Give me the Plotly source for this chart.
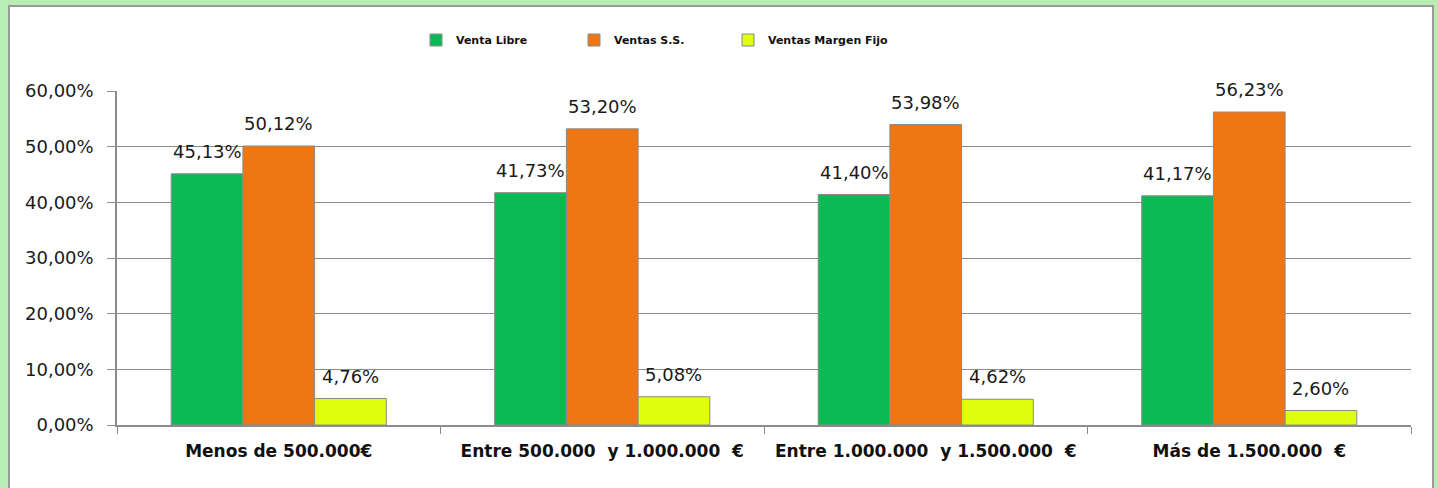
import plotly.graph_objects as go

categories = ["Menos de 500.000€", "Entre 500.000  y 1.000.000  €",
              "Entre 1.000.000  y 1.500.000  €", "Más de 1.500.000  €"]
series_names = ["Venta Libre", "Ventas S.S.", "Ventas Margen Fijo"]
venta_libre = [45.13, 41.73, 41.40, 41.17]
ventas_ss = [50.12, 53.20, 53.98, 56.23]
ventas_margen_fijo = [4.76, 5.08, 4.62, 2.60]
y_ticks = [0, 10, 20, 30, 40, 50, 60]

series_values = [venta_libre, ventas_ss, ventas_margen_fijo]
colors = ["#0BBA55", "#F07614", "#DFFF0F"]
legend_ids = ["legend", "legend2", "legend3"]
legend_px = [416, 574, 728]

def fmt(v):
    return f"{v:.2f}".replace(".", ",") + "%"

W, H = 1437, 488
ml, mr, mt, mb = 117, W - 1411, 91, H - 425
pw = W - ml - mr
ph = H - mt - mb
bargap = 0.335
bar_px = pw / len(categories) * (1 - bargap) / 3

FONT = "DejaVu Sans"

def px2x(p):
    return (p - ml) / pw

def px2y(p):
    return (H - mb - p) / ph

fig = go.Figure()
for name, vals, col, lg in zip(series_names, series_values, colors, legend_ids):
    fig.add_trace(go.Bar(
        name=name, x=categories, y=vals, legend=lg,
        marker=dict(color=col, line=dict(color="#8a8a8a", width=1)),
    ))

for i, vals in enumerate(series_values):
    for c, v in zip(categories, vals):
        fig.add_annotation(x=c, y=v, xref="x", yref="y", text=fmt(v),
                           showarrow=False, yanchor="bottom",
                           xshift=(i - 1) * bar_px, yshift=10,
                           font=dict(family=FONT, size=18, color="#1a1a1a"))

# white chart frame
fig.add_shape(type="rect", xref="paper", yref="paper",
              x0=px2x(9), x1=px2x(1433), y0=px2y(500), y1=px2y(6),
              fillcolor="white", line=dict(color="#9a9a9a", width=2), layer="below")

legend_common = dict(orientation="h", xanchor="left", yanchor="middle", y=px2y(40),
                     font=dict(family=FONT, size=11, color="#111", weight="bold"),
                     itemwidth=30, bgcolor="rgba(0,0,0,0)")

fig.update_layout(
    width=W, height=H,
    margin=dict(l=ml, r=mr, t=mt, b=mb, autoexpand=False),
    paper_bgcolor="#B8EDB3",
    plot_bgcolor="rgba(0,0,0,0)",
    barmode="group", bargap=bargap, bargroupgap=0,
    separators=",.",
    font=dict(family=FONT, color="#1a1a1a"),
    showlegend=True,
    legend=dict(x=px2x(legend_px[0]), **legend_common),
    legend2=dict(x=px2x(legend_px[1]), **legend_common),
    legend3=dict(x=px2x(legend_px[2]), **legend_common),
    xaxis=dict(showline=True, linecolor="#8c8c8c", linewidth=1.5,
               ticks="outside", ticklen=7, tickcolor="#8c8c8c", tickson="boundaries",
               tickfont=dict(family=FONT, size=17, color="#111", weight="bold"),
               tickangle=0, ticklabelstandoff=10,
               showgrid=False, automargin=False),
    yaxis=dict(range=[0, 60], tickvals=y_ticks, ticktext=[fmt(t) for t in y_ticks],
               showline=True, linecolor="#8c8c8c", linewidth=1.5,
               ticks="outside", ticklen=8, tickcolor="#8c8c8c",
               ticklabelstandoff=10,
               showgrid=True, gridcolor="#8c8c8c", gridwidth=1,
               tickfont=dict(family=FONT, size=18, color="#1a1a1a"),
               zeroline=False, automargin=False),
)

fig.write_html("out.html", post_script="document.body.style.margin='0';",
               config={"displayModeBar": False})
